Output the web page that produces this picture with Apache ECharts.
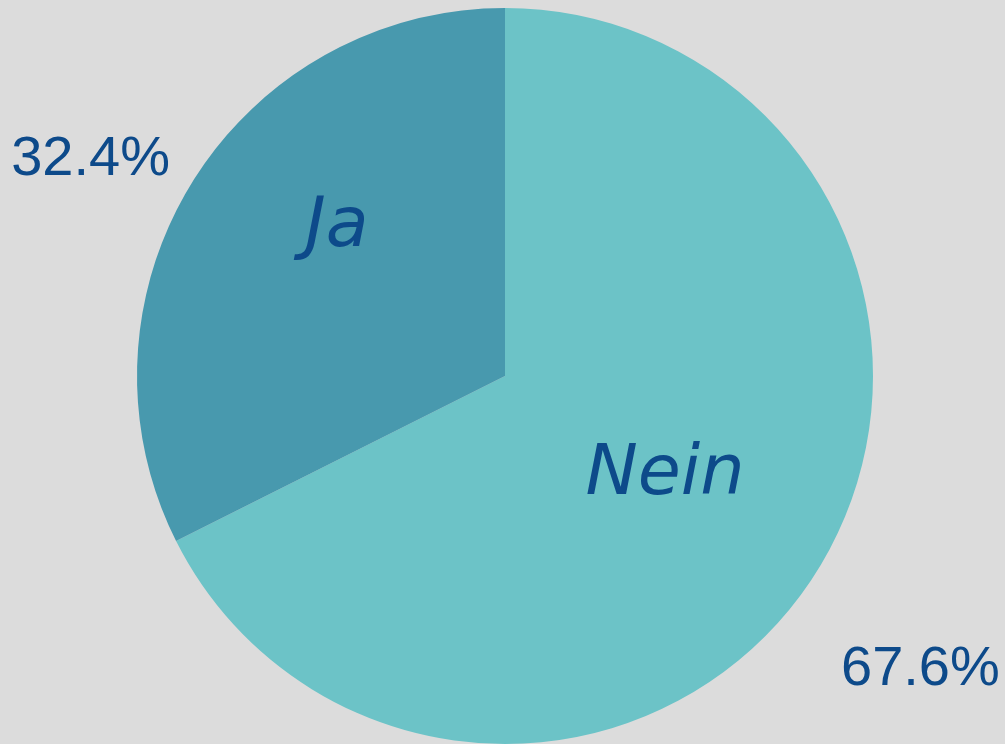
<!DOCTYPE html>
<html>
<head>
<meta charset="utf-8">
<script src="https://cdn.jsdelivr.net/npm/echarts@6/dist/echarts.min.js"></script>
<style>
  html, body { margin: 0; padding: 0; background: #dcdcdc; }
  #chart { width: 1005px; height: 744px; }
</style>
</head>
<body>
<div id="chart"></div>
<script>
// data
var categories = ['Nein', 'Ja'];
var shares = [67.6, 32.4];
var sliceColors = ['#6cc3c7', '#4899ae'];

var textBlue = '#0d4a8a';
var pieData = categories.map(function (name, i) {
    return { name: name, value: shares[i], itemStyle: { color: sliceColors[i] } };
});

// label spots (pixel), keyed by category
var nameSpots = { Ja: [337, 228], Nein: [665, 476] };
var pctSpots = { Ja: [170, 160, 'right'], Nein: [841, 670, 'left'] };

var myChart = echarts.init(document.getElementById('chart'));
var option = {
    backgroundColor: '#dcdcdc',
    animation: false,
    series: [
        {
            type: 'pie',
            center: [505, 376],
            radius: 368,
            startAngle: 90,
            clockwise: true,
            data: pieData,
            label: {
                show: true,
                position: 'inside',
                formatter: '{b}',
                color: textBlue,
                fontFamily: 'DejaVu Sans',
                fontStyle: 'italic',
                fontSize: 70
            },
            labelLayout: function (p) {
                var s = nameSpots[categories[p.dataIndex]];
                return { x: s[0], y: s[1], align: 'center', verticalAlign: 'middle' };
            },
            labelLine: { show: false },
            emphasis: { disabled: true }
        },
        {
            type: 'pie',
            center: [505, 376],
            radius: 368,
            startAngle: 90,
            silent: true,
            data: categories.map(function (name, i) {
                return { name: name, value: shares[i] };
            }),
            itemStyle: { color: 'rgba(0,0,0,0)' },
            label: {
                show: true,
                position: 'outside',
                overflow: 'none',
                formatter: function (p) { return p.value.toFixed(1) + '%'; },
                color: textBlue,
                fontFamily: 'Liberation Sans',
                fontSize: 56
            },
            labelLayout: function (p) {
                var s = pctSpots[categories[p.dataIndex]];
                return { x: s[0], y: s[1], align: s[2], verticalAlign: 'middle' };
            },
            labelLine: { show: false }
        }
    ]
};
myChart.setOption(option);
</script>
</body>
</html>
